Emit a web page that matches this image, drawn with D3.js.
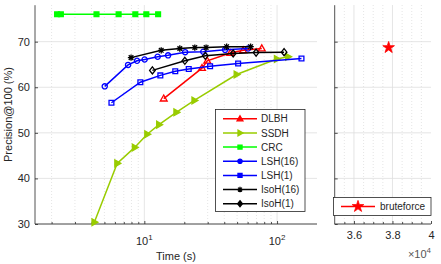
<!DOCTYPE html>
<html><head><meta charset="utf-8">
<script src="https://cdn.jsdelivr.net/npm/d3@7"></script>
<style>body{margin:0;background:#fff}svg{display:block;font-family:"Liberation Sans",Arial,sans-serif}</style>
</head><body><svg id="c" width="441" height="264"></svg>
<script>
// ---- data ----
const seriesNames = ["DLBH","SSDH","CRC","LSH(16)","LSH(1)","IsoH(16)","IsoH(1)"];
const dlbhTime = [14.0, 27.2, 29.8, 44.4, 55.5, 76.7];
const dlbhPrec = [57.5, 64.2, 65.8, 67.5, 68.1, 68.5];
const ssdhTime = [4.2, 6.24, 8.46, 10.5, 12.9, 17.4, 23.8, 49.5, 99.5, 121];
const ssdhPrec = [30.4, 43.3, 46.8, 49.7, 51.8, 54.5, 57.1, 62.8, 66.2, 66.7];
const crcTime = [2.2, 2.35, 4.36, 6.4, 8.55, 10.35, 12.7];
const crcPrec = [76, 76, 76, 76, 76, 76, 76];
const lsh16Time = [5.03, 7.54, 8.81, 10.05, 12.6, 15.1, 20.3, 27.8, 40.6, 60.5];
const lsh16Prec = [60.2, 64.9, 65.8, 66.1, 66.7, 67.0, 67.7, 67.8, 68.2, 68.5];
const lsh1Time = [5.65, 9.33, 13.2, 17.1, 21.6, 31.3, 50.9, 152.8];
const lsh1Prec = [56.6, 61.1, 62.6, 63.5, 64.0, 64.6, 65.2, 66.3];
const isoh16Time = [7.94, 13.4, 18.5, 24.0, 29.2, 41.7, 63.2];
const isoh16Prec = [66.5, 68.1, 68.5, 68.7, 68.7, 68.9, 68.9];
const isoh1Time = [11.5, 20.2, 28.8, 46.7, 69.5, 113];
const isoh1Prec = [63.7, 65.8, 66.9, 67.4, 67.6, 67.7];
const bruteTime = [37800];
const brutePrec = [68.7];
const yTicks = [30, 40, 50, 60, 70];
const xTicksLog = [10, 100];
const xTicksRight = [36000, 38000, 40000];
const xTickLabelsRight = ["3.6", "3.8", "4"];

// ---- layout ----
const svg = d3.select("#c");
const axisCol = "#262626", gridCol = "#dedede";
const y = d3.scaleLinear().domain([30, 78]).range([224, 5.2]);
const xL = d3.scaleLog().domain([1.5, 200]).range([35, 317]);
const xR = d3.scaleLinear().domain([35000, 40000]).range([334.7, 431]);

// marker paths
function sym(type, s){
  switch(type){
    case "triUp": return `M0,${-s}L${s*0.95},${s*0.65}L${-s*0.95},${s*0.65}Z`;
    case "triRight": return `M${s},0L${-s*0.65},${s*0.95}L${-s*0.65},${-s*0.95}Z`;
    case "square": return `M${-s},${-s}H${s}V${s}H${-s}Z`;
    case "circle": return `M${s},0A${s},${s} 0 1,1 ${-s},0A${s},${s} 0 1,1 ${s},0Z`;
    case "diamond": return `M0,${-s*1.25}L${s},0L0,${s*1.25}L${-s},0Z`;
    case "asterisk": { const d=s*0.72; return `M${-s},0H${s}M0,${-s}V${s}M${-d},${-d}L${d},${d}M${-d},${d}L${d},${-d}`; }
    case "star": return d3.symbol(d3.symbolStar, s).apply();
  }
}

const series = [
  {name:seriesNames[0], t:dlbhTime, p:dlbhPrec, color:"#ff0000", m:"triUp", s:3.6, fill:"none"},
  {name:seriesNames[1], t:ssdhTime, p:ssdhPrec, color:"#99cc00", m:"triRight", s:3.6, fill:"#99cc00"},
  {name:seriesNames[2], t:crcTime, p:crcPrec, color:"#00ff00", m:"square", s:2.4, fill:"#00ff00"},
  {name:seriesNames[3], t:lsh16Time, p:lsh16Prec, color:"#0000ff", m:"circle", s:2.6, fill:"none"},
  {name:seriesNames[4], t:lsh1Time, p:lsh1Prec, color:"#0000ff", m:"square", s:2.4, fill:"none"},
  {name:seriesNames[5], t:isoh16Time, p:isoh16Prec, color:"#000000", m:"asterisk", s:3.2, fill:"none"},
  {name:seriesNames[6], t:isoh1Time, p:isoh1Prec, color:"#000000", m:"diamond", s:2.8, fill:"none"}
];

// ---- left panel grid ----
const gL = svg.append("g");
const minorL = [];
[1,10,100].forEach(d=>{for(let k=2;k<=9;k++){const v=d*k; if(v>1.5&&v<200) minorL.push(v);} });
gL.selectAll(".mg").data(minorL).join("line")
  .attr("x1",d=>xL(d)).attr("x2",d=>xL(d)).attr("y1",5).attr("y2",224)
  .attr("stroke",gridCol).attr("stroke-width",0.8).attr("stroke-dasharray","1,2");
gL.selectAll(".Mg").data(xTicksLog).join("line")
  .attr("x1",d=>xL(d)).attr("x2",d=>xL(d)).attr("y1",5).attr("y2",224)
  .attr("stroke",gridCol).attr("stroke-width",0.8);
gL.selectAll(".yg").data(yTicks).join("line")
  .attr("x1",35).attr("x2",317).attr("y1",d=>y(d)).attr("y2",d=>y(d))
  .attr("stroke",gridCol).attr("stroke-width",0.8);

// ---- right panel grid ----
const gR = svg.append("g");
const minorR = d3.range(35500, 40000, 500).filter(v=>!xTicksRight.includes(v));
gR.selectAll(".mg").data(minorR).join("line")
  .attr("x1",d=>xR(d)).attr("x2",d=>xR(d)).attr("y1",5).attr("y2",224)
  .attr("stroke",gridCol).attr("stroke-width",0.8).attr("stroke-dasharray","1,2");
gR.selectAll(".Mg").data(xTicksRight.slice(0,2)).join("line")
  .attr("x1",d=>xR(d)).attr("x2",d=>xR(d)).attr("y1",5).attr("y2",224)
  .attr("stroke",gridCol).attr("stroke-width",0.8);
gR.selectAll(".yg").data(yTicks).join("line")
  .attr("x1",334.7).attr("x2",431).attr("y1",d=>y(d)).attr("y2",d=>y(d))
  .attr("stroke",gridCol).attr("stroke-width",0.8);

// ---- axes ----
const axL = svg.append("g").attr("transform","translate(35,0)")
  .call(d3.axisLeft(y).tickValues(yTicks).tickSize(-3).tickPadding(5).tickFormat(d3.format("d")));
const axB = svg.append("g").attr("transform","translate(0,224)")
  .call(d3.axisBottom(xL).tickValues(xTicksLog).tickSize(-3).tickFormat(()=>""));
const axBm = svg.append("g").attr("transform","translate(0,224)")
  .call(d3.axisBottom(xL).tickValues(minorL).tickSize(-2).tickFormat(()=>""));
const axR = svg.append("g").attr("transform","translate(334.7,0)")
  .call(d3.axisLeft(y).tickValues(yTicks).tickSize(-3).tickFormat(()=>""));
const axRB = svg.append("g").attr("transform","translate(0,224)")
  .call(d3.axisBottom(xR).tickValues(xTicksRight).tickSize(-3).tickPadding(7).tickFormat((d,i)=>xTickLabelsRight[i]));
const axRBm = svg.append("g").attr("transform","translate(0,224)")
  .call(d3.axisBottom(xR).tickValues(minorR).tickSize(-2).tickFormat(()=>""));
[axL,axB,axBm,axR,axRB,axRBm].forEach(a=>{
  a.selectAll("path").attr("stroke",axisCol).attr("stroke-width",0.8);
  a.selectAll("line").attr("stroke",axisCol).attr("stroke-width",0.8);
  a.selectAll("text").attr("fill",axisCol).style("font-size","11px").style("font-family","Liberation Sans, Arial, sans-serif");
});
axL.select(".domain").attr("d","M0,224V5.2");
axR.select(".domain").attr("d","M0,224V5.2");
axB.select(".domain").attr("d","M35,0H317");
axBm.select(".domain").remove();
axRB.select(".domain").attr("d","M334.7,0H431");
axRBm.select(".domain").remove();

// log tick labels 10^n
xTicksLog.forEach(v=>{
  const t = svg.append("text").attr("x",xL(v)).attr("y",245).attr("text-anchor","middle")
    .attr("fill",axisCol).style("font-size","11px");
  t.append("tspan").text("10");
  t.append("tspan").attr("dy",-5).style("font-size","8px").text(String(Math.round(Math.log10(v))));
});
// x10^4 label
const ex = svg.append("text").attr("x",431).attr("y",258).attr("text-anchor","end")
  .attr("fill","#555").style("font-size","11px");
ex.append("tspan").text("\u00d710");
ex.append("tspan").attr("dy",-5).style("font-size","8px").text("4");

// axis titles
svg.append("text").attr("x",176).attr("y",260).attr("text-anchor","middle")
  .attr("fill",axisCol).style("font-size","11px").text("Time (s)");
svg.append("text").attr("transform","translate(12,114.5) rotate(-90)").attr("text-anchor","middle")
  .attr("fill",axisCol).style("font-size","11px").text("Precision@100 (%)");

// ---- series ----
const line = d3.line().x(d=>xL(d[0])).y(d=>y(d[1]));
series.forEach(s=>{
  const pts = s.t.map((t,i)=>[t, s.p[i]]);
  svg.append("path").datum(pts).attr("d",line).attr("fill","none")
    .attr("stroke",s.color).attr("stroke-width",1.5);
  svg.selectAll(null).data(pts).join("path")
    .attr("transform",d=>`translate(${xL(d[0])},${y(d[1])})`)
    .attr("d",sym(s.m,s.s)).attr("fill",s.fill).attr("stroke",s.color).attr("stroke-width",1.3);
});
// bruteforce
svg.selectAll(null).data(bruteTime.map((t,i)=>[t,brutePrec[i]])).join("path")
  .attr("transform",d=>`translate(${xR(d[0])},${y(d[1])})`)
  .attr("d",sym("star",42)).attr("fill","#ff0000").attr("stroke","#ff0000").attr("stroke-width",0.8);

// ---- legends ----
const lg = svg.append("g");
lg.append("rect").attr("x",215.5).attr("y",109.5).attr("width",89.5).attr("height",102)
  .attr("fill","#fff").attr("stroke",axisCol).attr("stroke-width",0.8);
series.forEach((s,i)=>{
  const yy = 118.8 + i*14.15;
  lg.append("line").attr("x1",223).attr("x2",257).attr("y1",yy).attr("y2",yy)
    .attr("stroke",s.color).attr("stroke-width",1.5);
  lg.append("path").attr("transform",`translate(240,${yy})`).attr("d",sym(s.m,s.s*0.85))
    .attr("fill",s.m==="asterisk"?"none":s.color).attr("stroke",s.color).attr("stroke-width",1.3);
  lg.append("text").attr("x",261).attr("y",yy+3.6).attr("fill",axisCol)
    .style("font-size","10px").text(s.name);
});
const lg2 = svg.append("g");
lg2.append("rect").attr("x",333.5).attr("y",197.5).attr("width",97.5).attr("height",18)
  .attr("fill","#fff").attr("stroke",axisCol).attr("stroke-width",0.8);
lg2.append("line").attr("x1",341).attr("x2",375).attr("y1",206.5).attr("y2",206.5)
  .attr("stroke","#ff0000").attr("stroke-width",1.5);
lg2.append("path").attr("transform","translate(358,206.5)").attr("d",sym("star",42))
  .attr("fill","#ff0000").attr("stroke","#ff0000").attr("stroke-width",0.8);
lg2.append("text").attr("x",380).attr("y",210).attr("fill",axisCol).style("font-size","10px").text("bruteforce");
</script></body></html>
